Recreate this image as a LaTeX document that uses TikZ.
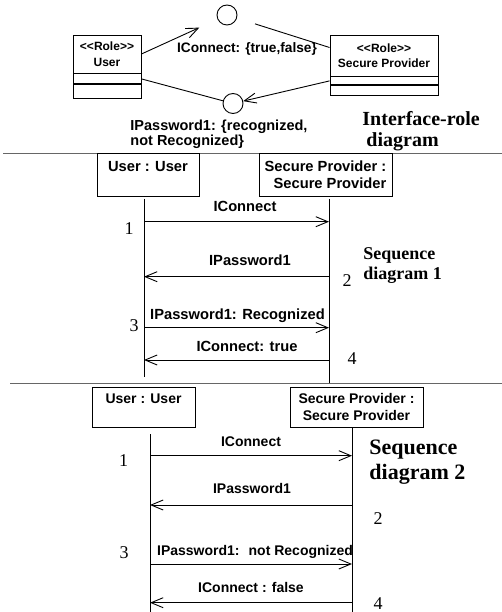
\documentclass[tikz,border=0pt]{standalone}
\usepackage{fontspec}
\setmainfont{Liberation Serif}
\setsansfont{Liberation Sans}
\usepackage{tikz}
\usetikzlibrary{arrows.meta, positioning, calc}

\begin{document}
\begin{tikzpicture}[x=1pt, y=-1pt, line width=0.9pt,
    rolebox/.style={draw, inner sep=0pt, minimum width=#1, align=center, font=\sffamily\bfseries\fontsize{12}{15.5}\selectfont},
    iface/.style={draw, circle, minimum size=20pt, inner sep=0pt},
    lbl/.style={font=\sffamily\bfseries\fontsize{#1}{15.5}\selectfont, inner sep=0pt},
    sq/.style={font=\sffamily\bfseries\fontsize{#1}{16.5}\selectfont},
    obj/.style={draw, inner xsep=3pt, inner ysep=0pt, align=#1},
    ttl/.style={anchor=west, align=left, inner sep=0pt},
    msg/.style={-{Straight Barb[length=12pt, width=10pt]}},
    mlbl/.style={anchor=base, inner sep=0pt, yshift=#1}, mlbl/.default=10pt,
    num/.style={font=\fontsize{18}{20}\selectfont, inner sep=0pt},
    sep/.style={draw=black!60}]
  \useasboundingbox (0,0) rectangle (502,612);

  % interface-role diagram
  \node[rolebox=68, minimum height=38] (usrhd) at (107,54) {<\kern0pt<Role>\kern0pt>\\User};
  \node[rolebox=68, minimum height=10, below=0pt of usrhd] (usrmd) {};
  \node[rolebox=68, minimum height=14, below=0pt of usrmd] (usrft) {};
  \node[rolebox=108, minimum height=41] (sphd) at (384,55.5) {<\kern0pt<Role>\kern0pt>\\Secure Provider};
  \node[rolebox=108, minimum height=8, below=0pt of sphd] (spmd) {};
  \node[rolebox=108, minimum height=10, below=0pt of spmd] (spft) {};
  \node[iface] (icon) at (227,15) {};
  \node[iface] (ipwd) at (233,103.5) {};
  \draw[msg, shorten >=20pt] (usrhd.east) -- (icon);
  \draw[shorten <=19pt] (icon) -- ([yshift=8pt]sphd.west);
  \draw (usrmd.east) -- (ipwd);
  \draw[msg] (spmd.west) -- (ipwd);
  \node[lbl=13.7, anchor=base] (iclbl) at (247,53) {IConnect: \{true,false\}};
  \node[lbl=14.5, align=left, anchor=west] (ipwlbl) at (130,134.5) {IPassword1: \{recognized,\\not Recognized\}};
  \node[ttl, font=\bfseries\fontsize{20}{20.5}\selectfont] (irlbl) at (362,131) {Interface-role\\\hspace*{4pt}diagram};

  \draw[sep] (3,153) -- (502,153);

  % sequence diagram 1
  \node[obj=center, sq=14.7, minimum width=102, minimum height=43] (usr1) at (148,174.5) {User : User\\\mbox{}};
  \node[obj=right, sq=14.7, minimum width=133, minimum height=43] (sp1) at (325.5,174.5) {Secure Provider :\\Secure Provider};
  \coordinate (u1top) at (144,199);
  \coordinate (u1bot) at (144,377);
  \coordinate (s1top) at (329,199);
  \coordinate (s1bot) at (329,383);
  \draw (u1top) -- (u1bot);
  \draw (s1top) -- (s1bot);
  \foreach \k/\yy in {1/221.7, 2/276.7, 3/327.7, 4/360}{
    \coordinate (u1m\k) at (144,\yy);
    \coordinate (s1m\k) at (329,\yy);
  }
  \draw[msg] (u1m1) -- node[mlbl, sq=14.7, xshift=8.5pt] (m1a) {IConnect} (s1m1);
  \draw[msg] (s1m2) -- node[mlbl=11.7pt, sq=14.7, xshift=13.5pt] (m1b) {IPassword1} (u1m2);
  \draw[msg] (u1m3) -- node[mlbl=8.4pt, sq=14.7, xshift=1pt] (m1c) {IPassword1: Recognized} (s1m3);
  \draw[msg] (s1m4) -- node[mlbl=8.3pt, sq=14.7, xshift=10.5pt] (m1d) {IConnect: true} (u1m4);
  \node[num] (n1a) at (129,229) {1};
  \node[num] (n1b) at (347,281) {2};
  \node[num] (n1c) at (134,326) {3};
  \node[num] (n1d) at (352,359) {4};
  \node[ttl, font=\bfseries\fontsize{18}{20}\selectfont] (sq1lbl) at (363,266) {Sequence\\diagram 1};

  \draw[sep] (10,383) -- (502,383);

  % sequence diagram 2
  \node[obj=center, sq=14, minimum width=103, minimum height=40] (usr2) at (143.5,407) {User : User\\\mbox{}};
  \node[obj=center, sq=14, minimum width=133, minimum height=40] (sp2) at (356.5,407) {Secure Provider :\\Secure Provider};
  \coordinate (u2top) at (150,434);
  \coordinate (u2bot) at (150,612);
  \coordinate (s2top) at (352,427);
  \coordinate (s2bot) at (352,612);
  \draw (u2top) -- (u2bot);
  \draw (s2top) -- (s2bot);
  \foreach \k/\yy in {1/455.7, 2/505, 3/564, 4/602.7}{
    \coordinate (u2m\k) at (150,\yy);
    \coordinate (s2m\k) at (352,\yy);
  }
  \draw[msg] (u2m1) -- node[mlbl=9.7pt, sq=14] (m2a) {IConnect} (s2m1);
  \draw[msg] (s2m2) -- node[mlbl=11.7pt, sq=14, xshift=1pt] (m2b) {IPassword1} (u2m2);
  \draw[msg] (u2m3) -- node[mlbl=9pt, sq=14, xshift=4pt] (m2c) {IPassword1: \ not Recognized} (s2m3);
  \draw[msg] (s2m4) -- node[mlbl=10.4pt, sq=14] (m2d) {IConnect : false} (u2m4);
  \node[num] (n2a) at (123.5,461) {1};
  \node[num] (n2b) at (378,519) {2};
  \node[num] (n2c) at (124,553) {3};
  \node[num] (n2d) at (378,603.5) {4};
  \node[ttl, font=\bfseries\fontsize{22}{25}\selectfont] (sq2lbl) at (369,462) {Sequence\\diagram 2};
\end{tikzpicture}
\end{document}
